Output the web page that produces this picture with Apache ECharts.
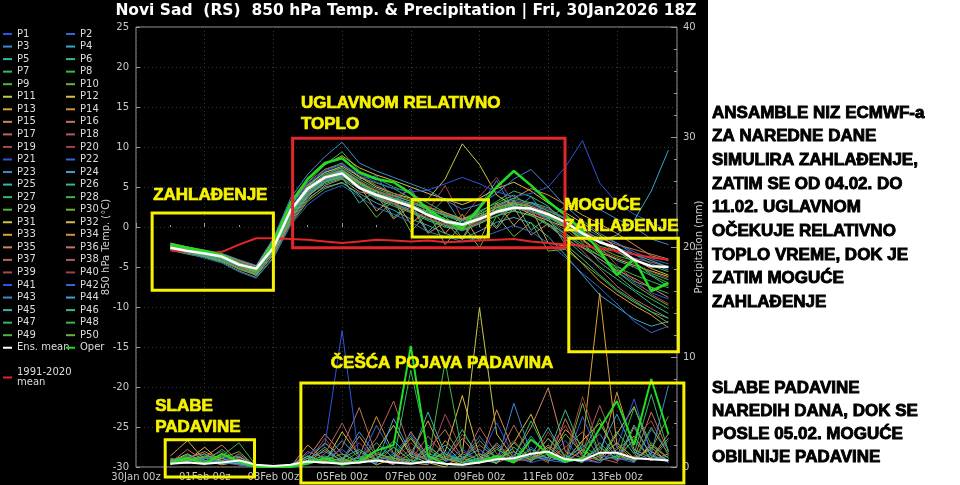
<!DOCTYPE html>
<html>
<head>
<meta charset="utf-8">
<title>Novi Sad 850 hPa Temp. & Precipitation</title>
<script src="https://cdn.jsdelivr.net/npm/echarts@6/dist/echarts.min.js"></script>
<style>
  html, body { margin: 0; padding: 0; background: #fff; }
  #chart { width: 960px; height: 485px; }
</style>
</head>
<body>
<div id="chart"></div>
<script>
// time in days after 30Jan 00z, 12-hourly steps
const times = [1, 1.5, 2, 2.5, 3, 3.5, 4, 4.5, 5, 5.5, 6, 6.5, 7, 7.5, 8, 8.5, 9, 9.5, 10, 10.5, 11, 11.5, 12, 12.5, 13, 13.5, 14, 14.5, 15, 15.5]
const xTickLabels = ['30Jan 00z', '01Feb 00z', '03Feb 00z', '05Feb 00z', '07Feb 00z', '09Feb 00z', '11Feb 00z', '13Feb 00z']

// 850 hPa temperature (°C)
const ensMean = [-2.6, -3.0, -3.3, -3.7, -4.7, -5.2, -2.6, 2.1, 4.8, 6.2, 6.7, 4.9, 4.0, 3.3, 2.6, 1.5, 0.7, 0.3, 1.0, 1.9, 2.4, 2.3, 1.6, 0.6, -0.8, -1.9, -2.6, -4.1, -4.9, -5.0]
const operTemp = [-2.2, -2.6, -3.0, -3.5, -4.6, -5.4, -2.0, 3.0, 6.0, 8.0, 8.6, 6.8, 6.0, 5.6, 4.2, 2.2, 0.8, -0.2, 2.4, 5.0, 7.0, 5.2, 3.2, 1.5, -0.5, -3.0, -6.0, -4.0, -8.0, -7.0]
const climMean = [-2.9, -3.1, -3.3, -3.1, -2.2, -1.4, -1.4, -1.5, -1.6, -1.8, -2.0, -1.8, -1.6, -1.7, -1.8, -1.7, -1.9, -1.8, -1.7, -1.6, -1.5, -1.8, -2.0, -2.2, -2.3, -2.7, -3.0, -3.4, -3.8, -4.1]

const tP01 = [-2.4, -2.9, -3.4, -4.0, -5.1, -5.8, -3.0, 1.5, 4.2, 5.8, 6.5, 5.0, 3.8, 3.0, 2.2, 1.0, 0.2, -0.5, 0.4, 1.8, 2.6, 2.0, 1.0, -0.8, -2.5, -4.0, -5.5, -7.0, -8.2, -9.0]
const tP02 = [-2.8, -3.1, -3.6, -3.9, -4.8, -5.5, -2.2, 2.4, 5.0, 6.6, 7.2, 5.6, 4.4, 3.8, 2.9, 1.6, 0.9, 0.1, 1.2, 2.5, 3.4, 2.8, 2.0, 1.2, 0.0, -1.2, -2.0, -3.1, -4.0, -4.6]
const tP03 = [-2.5, -3.2, -3.0, -3.6, -4.5, -5.0, -1.8, 2.8, 5.3, 6.9, 7.4, 6.0, 6.4, 3.2, 4.8, 1.4, 3.6, 0.2, 2.6, 5.8, 2.0, 3.8, 1.0, 2.6, 3.5, 2.2, 1.0, 0.0, -1.5, -2.2]
const tP04 = [-2.2, -2.7, -3.1, -3.5, -4.9, -6.1, -3.5, 0.8, 3.6, 5.0, 5.5, 4.2, 3.0, 2.1, 1.0, 0.2, -0.8, -1.5, -0.5, 0.6, 1.2, 0.5, -1.2, -3.5, -6.0, -8.5, -10.0, -11.5, -12.4, -11.8]
const tP05 = [-2.6, -3.0, -3.5, -4.1, -4.6, -5.2, -2.6, 1.9, 4.6, 6.2, 6.9, 5.4, 4.1, 3.6, 3.0, 2.2, 1.4, 0.6, 1.0, 1.7, 2.2, 3.1, 2.4, 1.0, -1.0, -2.8, -4.2, -5.0, -6.1, -7.4]
const tP06 = [-2.7, -3.3, -3.7, -4.3, -5.2, -5.6, -2.9, 1.2, 3.9, 5.4, 6.1, 4.8, 3.5, 2.6, 1.8, 0.8, 0.0, -0.4, 0.6, 1.4, 2.0, 1.5, 0.2, -1.5, -3.4, -5.0, -6.5, -8.0, -9.6, -10.8]
const tP07 = [-2.1, -2.6, -3.2, -3.8, -4.4, -5.3, -2.4, 2.0, 5.0, 7.2, 8.0, 6.2, 5.5, 4.8, 3.6, 2.5, 1.6, 0.9, 1.8, 3.2, 4.5, 3.8, 2.6, 0.4, -2.0, -4.4, -6.0, -7.8, -9.0, -10.2]
const tP08 = [-2.3, -2.8, -3.3, -3.9, -4.7, -5.4, -2.0, 2.6, 5.6, 7.8, 9.4, 7.0, 6.1, 5.0, 4.2, 3.0, 1.8, 1.0, 2.0, 3.0, 4.0, 2.5, 0.8, -1.0, -2.5, -3.6, -5.2, -6.8, -7.5, -8.3]
const tP09 = [-2.5, -2.9, -3.3, -3.6, -4.5, -5.0, -2.7, 1.6, 4.4, 6.0, 6.8, 5.2, 4.0, 3.2, 2.5, 1.5, 0.5, 0.0, 0.8, 2.2, 2.9, 2.6, 1.5, 0.3, -1.2, -2.4, -3.0, -4.4, -6.0, -7.0]
const tP10 = [-2.9, -3.4, -3.8, -4.4, -5.5, -6.3, -3.8, 0.4, 3.2, 4.8, 5.6, 4.0, 1.2, 3.4, -0.6, 1.8, -2.2, 0.4, -2.6, 1.4, -1.2, 0.6, -3.0, -2.8, -4.5, -6.2, -8.0, -9.4, -10.6, -12.0]
const tP11 = [-2.4, -2.8, -3.4, -3.8, -4.6, -5.2, -2.4, 2.2, 5.2, 6.8, 7.6, 6.3, 5.0, 4.2, 3.6, 3.5, 6.0, 10.4, 7.8, 4.0, 2.6, 1.6, 0.8, 0.0, -1.5, -3.2, -4.0, -4.8, -5.5, -6.2]
const tP12 = [-2.0, -2.5, -3.0, -3.4, -4.2, -4.9, -1.6, 3.2, 6.0, 7.8, 8.9, 7.4, 6.5, 5.8, 5.0, 4.2, 3.5, 2.8, 3.6, 4.8, 5.6, 4.5, 3.0, 1.8, 0.5, -1.0, -2.6, -4.0, -5.2, -6.0]
const tP13 = [-2.6, -3.1, -3.5, -4.2, -5.0, -5.7, -3.2, 1.0, 3.8, 5.6, 6.3, 5.2, 2.0, 3.6, 0.4, 2.2, -0.8, 1.6, -1.8, 3.0, 0.2, 2.4, -2.0, -2.4, -4.6, -6.8, -8.4, -9.8, -11.0, -12.6]
const tP14 = [-2.3, -2.7, -3.2, -3.7, -4.8, -5.5, -2.5, 1.8, 4.8, 6.4, 7.0, 5.5, 4.5, 3.9, 3.2, 2.4, 1.8, 1.0, 1.6, 2.6, 3.6, 4.8, 4.0, 2.8, 1.5, 0.4, -0.8, -2.2, -3.6, -4.2]
const tP15 = [-2.8, -3.2, -3.7, -4.2, -5.3, -6.0, -3.4, 0.6, 3.4, 5.2, 6.0, 4.4, 4.0, 1.0, 2.6, -0.8, 0.6, -1.6, 1.8, -0.2, 2.4, -1.0, 0.4, -1.6, -2.6, -4.0, -5.4, -6.4, -7.6, -8.8]
const tP16 = [-2.5, -3.0, -3.4, -3.9, -4.9, -5.6, -2.8, 1.6, 4.4, 6.0, 6.6, 5.0, 3.8, 3.2, 2.4, 1.4, 0.7, 0.2, 1.2, 2.4, 3.2, 2.6, 1.8, 0.6, -0.6, -1.4, -2.2, -2.8, -3.4, -4.0]
const tP17 = [-2.2, -2.6, -3.1, -3.5, -4.3, -5.0, -2.0, 2.8, 5.6, 7.2, 7.8, 6.4, 5.2, 4.2, 3.4, 2.6, 1.6, 0.8, 1.4, 2.0, 2.8, 1.8, 0.4, -1.2, -3.0, -5.2, -7.4, -9.0, -10.2, -11.4]
const tP18 = [-2.7, -3.1, -3.6, -4.0, -5.0, -5.9, -3.1, 1.2, 4.0, 5.6, 6.4, 4.9, 3.6, 2.8, 1.9, 1.0, 0.4, -0.3, 0.5, 1.4, 2.4, 1.9, 1.2, 0.5, -0.5, -1.8, -3.2, -3.9, -4.4, -5.0]
const tP19 = [-2.4, -2.9, -3.3, -3.8, -4.7, -5.3, -2.6, 1.8, 4.6, 6.4, 7.2, 5.8, 4.6, 3.8, 4.6, 2.0, 5.2, 1.0, 3.8, 6.2, 3.0, 3.0, 2.2, 1.0, -0.6, -2.4, -4.8, -6.6, -8.4, -9.6]
const tP20 = [-2.6, -3.0, -3.5, -4.1, -5.1, -5.8, -3.0, 1.4, 4.0, 5.8, 6.6, 5.2, 3.9, 3.0, 2.0, 1.2, 0.3, -0.2, 0.7, 1.8, 2.5, 1.9, 0.9, -0.4, -1.8, -3.0, -3.8, -4.6, -5.6, -6.4]
const tP21 = [-2.3, -2.8, -3.2, -3.7, -4.6, -5.1, -2.2, 2.4, 5.4, 7.0, 7.8, 6.6, 5.6, 4.8, 4.4, 4.6, 5.4, 6.2, 5.4, 4.4, 3.8, 4.2, 5.0, 7.5, 10.8, 5.5, 3.0, 1.6, 0.6, -0.4]
const tP22 = [-2.9, -3.3, -3.9, -4.5, -5.6, -6.4, -3.9, 0.2, 2.8, 4.4, 5.2, 3.8, 2.4, 1.6, 0.6, -0.6, -1.2, -1.8, -1.4, -0.6, 0.2, -0.6, -2.0, -3.8, -5.8, -7.6, -9.6, -11.8, -13.2, -12.4]
const tP23 = [-2.1, -2.5, -2.9, -3.3, -4.1, -4.8, -1.4, 3.6, 6.6, 8.8, 10.6, 8.0, 7.0, 6.2, 5.4, 4.6, 3.4, 2.2, 2.8, 4.2, 6.0, 7.2, 5.0, 2.6, 0.8, -0.8, -2.0, -3.4, -4.6, -5.4]
const tP24 = [-2.5, -3.0, -3.5, -4.0, -4.9, -5.5, -2.8, 1.5, 4.3, 5.9, 6.5, 5.1, 3.9, 3.3, 2.6, 1.6, 0.8, 0.3, 1.0, 2.0, 2.6, 2.0, 1.2, 0.0, -1.4, -1.8, -1.0, 0.8, 4.5, 9.6]
const tP25 = [-2.4, -2.9, -3.4, -3.9, -4.8, -5.4, -2.6, 1.7, 4.6, 6.2, 7.0, 5.6, 4.2, 3.5, 2.8, 1.8, 0.9, 0.4, 1.3, 2.4, 3.0, 2.4, 1.4, 0.2, -1.0, -1.8, -2.6, -3.4, -4.2, -5.0]
const tP26 = [-2.6, -3.1, -3.6, -4.2, -5.2, -5.9, -3.1, 1.1, 3.9, 5.6, 6.2, 3.0, 4.6, 1.2, 3.0, -0.6, 1.4, -1.4, 2.2, 0.0, 3.4, -0.4, 1.2, -2.2, -4.0, -6.0, -7.8, -9.2, -10.6, -11.4]
const tP27 = [-2.3, -2.7, -3.2, -3.7, -4.6, -5.2, -2.4, 2.0, 5.0, 6.6, 7.4, 6.0, 4.8, 4.0, 3.2, 2.2, 1.5, 0.8, 1.6, 2.8, 3.6, 3.0, 2.0, 1.0, -0.2, -1.6, -3.0, -4.4, -5.8, -6.6]
const tP28 = [-2.7, -3.2, -3.7, -4.2, -5.2, -5.8, -3.0, 1.3, 4.1, 5.7, 6.4, 5.0, 3.7, 2.9, 2.0, 1.0, 0.2, -0.4, 0.4, 1.4, 2.0, 1.4, 0.4, -0.8, -2.2, -3.6, -5.0, -6.0, -6.8, -7.6]
const tP29 = [-2.5, -3.0, -3.4, -3.9, -4.8, -5.4, -2.7, 1.6, 4.5, 6.1, 6.8, 5.4, 4.1, 3.4, 2.6, 1.6, 0.8, 0.2, 1.0, 2.1, 2.8, 2.2, 1.3, 0.1, -1.2, -2.6, -3.6, -4.2, -4.8, -5.6]
const tP30 = [-2.4, -2.8, -3.3, -3.8, -4.7, -5.3, -2.5, 1.9, 4.8, 6.4, 7.1, 5.7, 4.4, 3.6, 2.8, 1.9, 1.0, 0.4, 1.2, 2.4, 3.0, 2.4, 1.4, 0.0, -1.6, -3.4, -5.6, -7.2, -8.6, -9.8]

// precipitation (mm)
const ensMeanPrecip = [0.3, 0.4, 0.3, 0.4, 0.6, 0.2, 0.1, 0.2, 0.5, 0.4, 0.3, 0.4, 0.6, 0.4, 0.3, 0.5, 0.3, 0.2, 0.4, 0.7, 0.8, 1.2, 1.4, 0.7, 0.6, 1.3, 1.3, 0.8, 0.7, 0.6]
const operPrecip = [0.4, 0.8, 0.3, 1.2, 0.5, 0.0, 0.0, 0.0, 0.3, 0.8, 0.2, 0.5, 1.5, 2.0, 11.0, 1.0, 0.3, 0.2, 0.5, 1.0, 0.4, 2.5, 1.2, 0.5, 0.8, 3.5, 6.0, 2.0, 8.0, 3.0]

const rP31 = [0.5, 1.2, 0.3, 0.8, 0.2, 0.0, 0.0, 0.0, 0.6, 2.2, 0.8, 0.3, 1.5, 3.8, 1.0, 0.4, 0.0, 1.2, 14.5, 3.0, 0.8, 0.5, 1.8, 0.6, 2.4, 4.0, 1.2, 0.5, 2.0, 0.8]
const rP32 = [0.3, 0.6, 1.8, 0.4, 0.9, 0.1, 0.0, 0.2, 1.0, 0.4, 3.2, 1.0, 0.2, 0.8, 2.6, 0.5, 1.4, 6.5, 1.0, 0.3, 2.2, 4.8, 1.0, 0.4, 1.6, 0.6, 3.0, 5.5, 1.4, 0.6]
const rP33 = [1.0, 2.4, 0.6, 0.2, 0.5, 0.0, 0.0, 0.1, 0.4, 1.6, 0.5, 2.8, 0.6, 0.3, 1.2, 4.2, 0.8, 0.2, 0.6, 1.8, 0.4, 1.2, 0.8, 3.4, 2.0, 15.8, 2.0, 0.6, 1.8, 0.4]
const rP34 = [0.2, 0.8, 1.4, 0.6, 0.3, 0.0, 0.0, 0.0, 2.0, 0.6, 0.2, 1.0, 4.6, 1.2, 0.4, 0.2, 2.4, 0.8, 0.3, 5.2, 1.4, 0.6, 2.0, 0.8, 0.5, 1.0, 6.8, 1.6, 0.8, 3.0]
const rP35 = [0.6, 0.4, 0.9, 2.0, 0.4, 0.1, 0.0, 0.0, 0.8, 3.0, 1.2, 0.4, 0.8, 0.2, 3.2, 1.0, 0.6, 2.6, 0.8, 0.4, 1.0, 3.6, 7.2, 1.4, 0.8, 0.4, 1.6, 2.8, 0.6, 1.2]
const rP36 = [0.4, 1.6, 0.5, 0.3, 1.2, 0.0, 0.0, 0.2, 0.5, 0.3, 1.8, 5.4, 1.0, 0.6, 0.4, 1.6, 3.4, 0.8, 0.4, 2.2, 0.6, 1.2, 0.4, 4.4, 1.0, 0.6, 2.2, 0.8, 5.0, 1.4]
const rP37 = [0.8, 0.5, 0.2, 1.0, 0.6, 0.0, 0.0, 0.0, 1.4, 0.8, 0.4, 0.6, 2.6, 6.0, 1.4, 0.6, 0.2, 0.8, 2.0, 0.8, 3.8, 1.0, 0.6, 1.8, 3.2, 0.8, 0.4, 3.6, 1.0, 0.6]
const rP38 = [0.3, 0.9, 1.2, 0.4, 0.2, 0.1, 0.0, 0.0, 0.3, 1.2, 4.0, 1.0, 0.4, 1.8, 0.6, 2.8, 1.0, 0.4, 3.6, 1.2, 0.5, 0.8, 2.6, 0.6, 1.4, 5.6, 1.8, 0.4, 2.2, 0.8]
const rP39 = [0.5, 0.3, 0.8, 1.4, 0.3, 0.0, 0.0, 0.1, 0.6, 0.4, 0.8, 2.2, 0.6, 0.4, 1.6, 0.6, 4.8, 1.4, 0.6, 0.8, 2.4, 0.6, 1.6, 3.8, 0.8, 1.2, 0.6, 2.6, 4.2, 1.0]
const rP40 = [0.4, 1.0, 0.4, 0.6, 0.8, 0.0, 0.0, 0.0, 0.4, 2.6, 0.6, 0.3, 1.2, 0.6, 2.2, 0.8, 0.4, 3.0, 1.2, 0.6, 1.4, 0.4, 3.2, 1.0, 6.4, 1.8, 0.6, 1.0, 0.6, 2.4]
const rP41 = [0.6, 0.4, 1.0, 0.3, 0.5, 0.0, 0.0, 0.2, 1.2, 2.0, 12.4, 0.6, 0.4, 1.2, 3.0, 0.8, 0.4, 1.6, 0.6, 4.0, 1.0, 0.4, 0.8, 2.4, 0.6, 0.4, 1.8, 6.2, 1.2, 0.4]
const rP42 = [0.3, 0.7, 0.4, 0.9, 0.2, 0.0, 0.0, 0.0, 0.5, 0.8, 1.6, 0.4, 3.8, 1.0, 0.6, 0.3, 1.4, 0.6, 2.8, 0.8, 0.4, 1.8, 0.6, 0.4, 4.6, 1.0, 0.8, 0.4, 3.4, 1.6]
const rP43 = [0.4, 0.6, 0.8, 0.5, 0.4, 0.1, 0.0, 0.0, 0.8, 1.4, 0.6, 3.2, 1.0, 0.5, 0.3, 2.0, 0.6, 0.8, 1.6, 0.4, 5.8, 1.2, 0.6, 0.8, 1.8, 3.0, 0.8, 0.6, 1.2, 7.4]
const rP44 = [0.5, 0.8, 0.3, 0.6, 1.0, 0.0, 0.0, 0.1, 0.3, 0.6, 2.4, 0.8, 0.3, 4.4, 1.2, 0.6, 2.0, 0.4, 0.6, 1.0, 0.6, 2.8, 1.0, 0.4, 0.8, 1.6, 4.8, 1.4, 0.6, 1.0]
const rP45 = [0.7, 0.5, 1.2, 0.4, 0.3, 0.0, 0.0, 0.0, 1.0, 0.4, 0.8, 1.6, 0.6, 2.4, 0.8, 5.0, 1.2, 0.4, 0.8, 2.0, 0.6, 1.0, 3.6, 0.8, 0.4, 2.2, 0.6, 3.8, 1.0, 0.6]
const rP46 = [0.4, 1.1, 0.6, 0.3, 0.7, 0.1, 0.0, 0.2, 0.6, 1.8, 0.4, 0.6, 2.2, 0.8, 0.4, 1.2, 0.8, 3.4, 0.6, 0.4, 1.8, 0.6, 1.2, 5.2, 1.4, 0.6, 1.0, 2.4, 0.8, 2.6]
const rP47 = [0.6, 0.9, 0.5, 1.6, 0.4, 0.0, 0.0, 0.0, 0.6, 1.0, 0.5, 0.8, 1.4, 0.6, 8.8, 1.6, 0.6, 1.0, 0.4, 1.6, 0.8, 4.2, 1.0, 0.6, 2.0, 0.8, 3.2, 1.2, 6.6, 1.4]
const rP48 = [0.5, 0.7, 0.4, 1.0, 2.2, 0.1, 0.0, 0.0, 0.4, 0.6, 1.2, 0.4, 0.8, 1.8, 0.6, 0.4, 9.6, 1.2, 0.6, 0.8, 1.4, 0.6, 2.6, 1.0, 0.6, 1.8, 0.8, 5.4, 2.0, 0.8]
const rP49 = [0.4, 0.6, 0.9, 0.5, 0.6, 0.0, 0.0, 0.1, 0.8, 0.5, 0.4, 1.4, 0.6, 1.0, 2.8, 0.6, 1.2, 0.6, 2.4, 0.8, 0.6, 1.6, 0.8, 3.0, 1.2, 4.4, 1.0, 0.6, 3.6, 1.2]
const rP50 = [0.6, 0.5, 1.0, 0.8, 1.4, 0.0, 0.0, 0.0, 0.5, 0.8, 0.6, 0.4, 1.2, 0.8, 0.6, 1.8, 0.8, 0.4, 1.2, 0.6, 2.2, 0.8, 1.4, 0.6, 5.8, 1.0, 2.2, 0.8, 1.6, 4.6]

const tempMembers = [tP01, tP02, tP03, tP04, tP05, tP06, tP07, tP08, tP09, tP10, tP11, tP12, tP13, tP14, tP15,
  tP16, tP17, tP18, tP19, tP20, tP21, tP22, tP23, tP24, tP25, tP26, tP27, tP28, tP29, tP30]
const precipMembers = [rP31, rP32, rP33, rP34, rP35, rP36, rP37, rP38, rP39, rP40, rP41, rP42, rP43, rP44, rP45,
  rP46, rP47, rP48, rP49, rP50]

// member colours repeat every 20 members (P1..P20, P21..P40, P41..P50)
const memberColors = [
  '#2f55e0', '#3366d0', '#3f88d0', '#3aa6cc', '#30b8a8', '#34bb88', '#36b866', '#3cb84c', '#52b43c', '#6cb438',
  '#c8c844', '#d8c044', '#dca23c', '#d8903e', '#cc8660', '#c47460', '#b8665e', '#b45a62', '#a84854', '#a04044',
]
const YELLOW = '#f6f200'
const RED = '#e3262a'
const OPER = '#22dd22'
const CLIM_NAME = '1991-2020\nmean'

const chart = echarts.init(document.getElementById('chart'))

const toPairs = vals => times.map((t, k) => [t, vals[k]])

function lineSeries(name, vals, yAxisIndex, color, width, z) {
  return {
    name,
    type: 'line',
    yAxisIndex,
    data: toPairs(vals),
    showSymbol: false,
    symbol: 'none',
    silent: true,
    lineStyle: { color, width },
    itemStyle: { color },
    z,
  }
}

const series = []
tempMembers.forEach((vals, i) => {
  series.push(lineSeries('P' + (i + 1), vals, 0, memberColors[i % 20], 1, 2))
})
precipMembers.forEach((vals, j) => {
  const n = 31 + j
  series.push(lineSeries('P' + n, vals, 1, memberColors[(n - 1) % 20], 1, 2))
})
series.push(lineSeries(CLIM_NAME, climMean, 0, RED, 2, 4))
series.push(lineSeries('Oper', operTemp, 0, OPER, 2.5, 5))
series.push(lineSeries('Oper', operPrecip, 1, OPER, 2, 5))
series.push(lineSeries('Ens. mean', ensMean, 0, '#ffffff', 2.5, 6))
series.push(lineSeries('Ens. mean', ensMeanPrecip, 1, '#ffffff', 2, 6))

const oddNames = [], evenNames = []
for (let i = 1; i <= 50; i++) (i % 2 ? oddNames : evenNames).push('P' + i)

const legendBase = {
  orient: 'vertical',
  icon: 'rect',
  itemWidth: 9,
  itemHeight: 2,
  itemGap: 0.55,
  itemTextGap: 2,
  padding: 0,
  selectedMode: false,
  textStyle: { color: '#dddddd', fontSize: 10, lineHeight: 12, fontFamily: 'DejaVu Sans' },
}

const axisText = { color: '#c8c8c8', fontSize: 10, fontFamily: 'DejaVu Sans' }

chart.setOption({
  animation: false,
  backgroundColor: '#000',
  title: {
    text: 'Novi Sad  (RS)  850 hPa Temp. & Precipitation | Fri, 30Jan2026 18Z',
    left: 406,
    top: 3,
    textAlign: 'center',
    padding: 0,
    textStyle: { color: '#ffffff', fontSize: 15.5, fontWeight: 'bold', fontFamily: 'DejaVu Sans' },
  },
  legend: [
    { ...legendBase, left: 3, top: 28, data: [...oddNames, 'Ens. mean'] },
    { ...legendBase, left: 66, top: 28, data: [...evenNames, 'Oper'] },
    {
      ...legendBase, left: 3, top: 362, data: [CLIM_NAME],
      textStyle: { ...legendBase.textStyle, lineHeight: 10, padding: [11, 0, 0, 0] },
    },
  ],
  grid: {
    left: 136, top: 27, width: 541, height: 440,
    show: true, borderColor: '#9a9a9a', borderWidth: 1, backgroundColor: 'transparent',
  },
  xAxis: {
    type: 'value',
    min: 0,
    max: 15.75,
    interval: 2,
    axisLine: { show: false },
    axisTick: { inside: true, length: 4, lineStyle: { color: '#9a9a9a' } },
    minorTick: { show: true, splitNumber: 2, length: 2, lineStyle: { color: '#9a9a9a' } },
    axisLabel: {
      ...axisText,
      margin: 5,
      showMaxLabel: false,
      formatter: v => (v % 2 === 0 && xTickLabels[v / 2]) ? xTickLabels[v / 2] : '',
    },
    splitLine: { show: true, lineStyle: { color: '#3a3a3a', type: [1, 3] } },
  },
  yAxis: [
    {
      type: 'value',
      min: -30,
      max: 25,
      interval: 5,
      name: '850 hPa Temp. (°C)',
      nameLocation: 'middle',
      nameGap: 25,
      nameMoveOverlap: false,
      nameTextStyle: { ...axisText, color: '#d0d0d0' },
      axisLine: { show: false },
      axisTick: { show: true, inside: true, length: 4, lineStyle: { color: '#9a9a9a' } },
      axisLabel: { ...axisText, margin: 7 },
      splitLine: { show: true, lineStyle: { color: '#3a3a3a', type: [1, 3] } },
    },
    {
      type: 'value',
      min: 0,
      max: 40,
      interval: 10,
      position: 'right',
      name: 'Precipitation (mm)',
      nameLocation: 'middle',
      nameGap: 17,
      nameMoveOverlap: false,
      nameTextStyle: { ...axisText, color: '#d0d0d0' },
      axisLine: { show: false },
      axisTick: { show: true, inside: true, length: 6, lineStyle: { color: '#9a9a9a' } },
      minorTick: { show: true, splitNumber: 5, length: 3, lineStyle: { color: '#9a9a9a' } },
      axisLabel: { ...axisText, margin: 6 },
      splitLine: { show: false },
    },
  ],
  series,
})

// annotation boxes and labels, given in data units (days, °C)
const annotBoxes = [
  { from: [0.47, 1.75], to: [4.0, -7.9], color: YELLOW },
  { from: [4.56, 11.1], to: [12.49, -2.6], color: RED },
  { from: [8.04, 3.4], to: [10.26, -1.25], color: YELLOW },
  { from: [12.6, -1.4], to: [15.79, -15.6], color: YELLOW },
  { from: [0.85, -26.6], to: [3.45, -31.25], color: YELLOW },
  { from: [4.8, -19.5], to: [15.95, -32.0], color: YELLOW },
]
const annotLabels = [
  { at: [0.5, 3.9], text: 'ZAHLAĐENJE' },
  { at: [4.8, 14.2], text: 'UGLAVNOM RELATIVNO\nTOPLO' },
  { at: [12.47, 1.4], text: 'MOGUĆE\nZAHLAĐENJE' },
  { at: [5.67, -17.1], text: 'ČEŠĆA POJAVA PADAVINA' },
  { at: [0.56, -23.7], text: 'SLABE\nPADAVINE' },
]
const noteTop = 'ANSAMBLE NIZ ECMWF-a\nZA NAREDNE DANE\nSIMULIRA ZAHLAĐENJE,\nZATIM SE OD 04.02. DO\n11.02. UGLAVNOM\nOČEKUJE RELATIVNO\nTOPLO VREME, DOK JE\nZATIM MOGUĆE\nZAHLAĐENJE'
const noteBottom = 'SLABE PADAVINE\nNAREDIH DANA, DOK SE\nPOSLE 05.02. MOGUĆE\nOBILNIJE PADAVINE'

const px = pt => chart.convertToPixel({ xAxisIndex: 0, yAxisIndex: 0 }, pt)
const labelFont = 'bold 17px "Liberation Sans", Arial, sans-serif'

const graphic = [
  { type: 'rect', shape: { x: 708, y: 0, width: 252, height: 485 }, style: { fill: '#ffffff' }, z: 50 },
  {
    type: 'text', x: 712, y: 101, z: 51,
    style: { text: noteTop, fill: '#000', stroke: '#000', lineWidth: 0.9, font: labelFont, lineHeight: 23.7 },
  },
  {
    type: 'text', x: 712, y: 377, z: 51,
    style: { text: noteBottom, fill: '#000', stroke: '#000', lineWidth: 0.9, font: labelFont, lineHeight: 23 },
  },
]
annotBoxes.forEach(b => {
  const p0 = px(b.from), p1 = px(b.to)
  graphic.push({
    type: 'rect',
    shape: { x: p0[0], y: p0[1], width: p1[0] - p0[0], height: p1[1] - p0[1] },
    style: { fill: 'none', stroke: b.color, lineWidth: 3 },
    z: 40,
  })
})
annotLabels.forEach(l => {
  const p = px(l.at)
  graphic.push({
    type: 'text', x: p[0], y: p[1], z: 45,
    style: {
      text: l.text, fill: YELLOW, stroke: YELLOW, lineWidth: 0.7, font: labelFont, lineHeight: 21,
      verticalAlign: 'middle', textVerticalAlign: 'middle',
    },
  })
})
chart.setOption({ graphic })
</script>
</body>
</html>
